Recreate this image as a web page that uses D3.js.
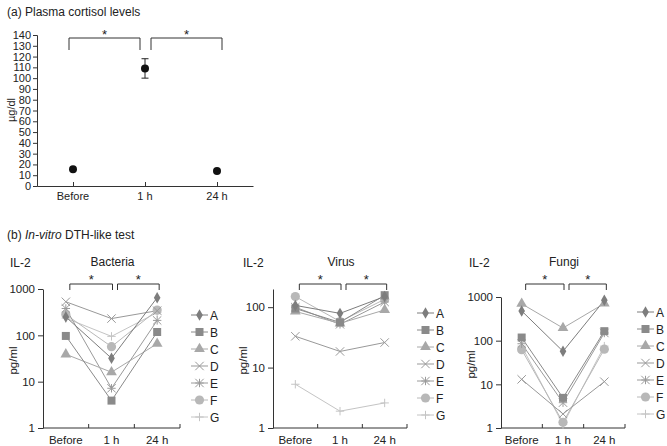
<!DOCTYPE html>
<html><head><meta charset="utf-8">
<script src="https://cdn.jsdelivr.net/npm/d3@7"></script>
<style>body{margin:0;background:#fff}svg{font-family:"Liberation Sans",Arial,sans-serif}</style>
</head><body><svg id="c" width="667" height="446"></svg>
<script>
const categories = ["Before", "1 h", "24 h"];
const cortisolMean = [15.5, 109, 14];
const cortisolErr = [0, 9, 0];
const cortisolTicks = [0,10,20,30,40,50,60,70,80,90,100,110,120,130,140];
const seriesNames = ["A","B","C","D","E","F","G"];
const bacteria = {A:[250,32,650],B:[97,3.9,118],C:[39,16,66],D:[530,230,340],E:[380,7.2,210],F:[280,57,350],G:[235,95,310]};
const virus = {A:[107,79,150],B:[95,56,158],C:[85,54,90],D:[33,18.5,26],E:[100,52,122],F:[150,58,135],G:[5.3,1.9,2.6]};
const fungi = {A:[480,57,840],B:[118,4.9,165],C:[700,195,710],D:[13,2.1,11.5],E:[85,3.8,150],F:[62,1.35,64],G:[75,1.2,75]};
const logTicks = [1,10,100,1000];

const markerType = {A:"diamond",B:"square",C:"triangle",D:"x",E:"asterisk",F:"circle",G:"plus"};
const colors = {A:"#7d7d7d",B:"#8a8a8a",C:"#a8a8a8",D:"#999",E:"#9a9a9a",F:"#b8b8b8",G:"#c4c4c4"};

const svg = d3.select("#c");

function marker(g, type, x, y, col){
  const s = g.append("g").attr("transform",`translate(${x},${y})`);
  if(type==="diamond") s.append("path").attr("d",d3.symbol(d3.symbolDiamond,38)()).attr("fill",col);
  else if(type==="square") s.append("path").attr("d",d3.symbol(d3.symbolSquare,64)()).attr("fill",col);
  else if(type==="triangle") s.append("path").attr("d",d3.symbol(d3.symbolTriangle,50)()).attr("fill",col);
  else if(type==="circle") s.append("circle").attr("r",4.6).attr("fill",col);
  else {
    const r=4.2; let segs=[];
    if(type==="x") segs=[[-r,-r,r,r],[-r,r,r,-r]];
    if(type==="plus") segs=[[-r,0,r,0],[0,-r,0,r]];
    if(type==="asterisk") segs=[[-r,-r,r,r],[-r,r,r,-r],[-r,0,r,0],[0,-r,0,r]];
    segs.forEach(q=>s.append("line").attr("x1",q[0]).attr("y1",q[1]).attr("x2",q[2]).attr("y2",q[3]).attr("stroke",col).attr("stroke-width",1));
  }
}

function bracket(g, x1, x2, yTop, yBot, starY){
  g.append("path").attr("d",`M${x1},${yBot}V${yTop}H${x2}V${yBot}`).attr("fill","none").attr("stroke","#333").attr("stroke-width",1);
  g.append("text").attr("x",(x1+x2)/2).attr("y",starY).attr("text-anchor","middle").attr("font-size",13).attr("fill","#222").text("*");
}

// ---- Panel (a)
svg.append("text").attr("x",7).attr("y",16).attr("font-size",12).attr("fill","#222").text("(a) Plasma cortisol levels");
{
  const x = d3.scalePoint().domain(categories).range([37,253]).padding(0.5);
  const y = d3.scaleLinear().domain([0,140]).range([186,35]);
  const g = svg.append("g");
  const ya = g.append("g").attr("transform","translate(37,0)").call(d3.axisLeft(y).tickValues(cortisolTicks).tickSize(4).tickPadding(2));
  ya.selectAll("text").attr("font-size",11).attr("fill","#222").attr("font-family","Liberation Sans, Arial");
  ya.select(".domain").attr("stroke","#333");
  ya.selectAll(".tick line").attr("stroke","#333");
  const xa = g.append("g").attr("transform","translate(0,186)").call(d3.axisTop(x).tickSize(4).tickSizeOuter(0));
  xa.selectAll("text").remove();
  xa.select(".domain").attr("stroke","#333");
  xa.selectAll(".tick line").attr("stroke","#333");
  categories.forEach(c=>g.append("text").attr("x",x(c)).attr("y",200).attr("text-anchor","middle").attr("font-size",11).attr("fill","#222").text(c));
  g.append("text").attr("transform","translate(15,110) rotate(-90)").attr("text-anchor","middle").attr("font-size",11).attr("fill","#222").text("µg/dl");
  categories.forEach((c,i)=>{
    if(cortisolErr[i]>0){
      const cx=x(c);
      g.append("path").attr("d",`M${cx},${y(cortisolMean[i]-cortisolErr[i])}V${y(cortisolMean[i]+cortisolErr[i])}M${cx-3.5},${y(cortisolMean[i]-cortisolErr[i])}h7M${cx-3.5},${y(cortisolMean[i]+cortisolErr[i])}h7`).attr("stroke","#222").attr("fill","none");
    }
    g.append("circle").attr("cx",x(c)).attr("cy",y(cortisolMean[i])).attr("r",4).attr("fill","#111");
  });
  bracket(g, x(categories[0])-4, x(categories[1])-5, 38, 50, 39);
  bracket(g, x(categories[1])+6, x(categories[2])+5, 38, 50, 39);
}

// ---- Panel (b)
const tb = svg.append("text").attr("x",7).attr("y",239).attr("font-size",12).attr("fill","#222");
tb.append("tspan").text("(b) ");
tb.append("tspan").attr("font-style","italic").text("In-vitro");
tb.append("tspan").text(" DTH-like test");

function subplot(cfg){
  const {data,title,x0,x1,yTop,yBot,ymax,il2x,legX,legY0,legStep,titleX} = cfg;
  const g = svg.append("g");
  const x = d3.scaleBand().domain(categories).range([x0,x1]);
  const y = d3.scaleLog().domain([1,ymax]).range([yBot,yTop]);
  g.append("text").attr("x",il2x).attr("y",267).attr("font-size",12).attr("fill","#222").text("IL-2");
  g.append("text").attr("x",(x0+x1)/2+1).attr("y",266).attr("text-anchor","middle").attr("font-size",12).attr("fill","#222").text(title);
  const ya = g.append("g").attr("transform",`translate(${x0},0)`).call(d3.axisLeft(y).tickValues(logTicks.filter(t=>t<=ymax)).tickFormat(d3.format("d")).tickSize(5).tickPadding(3).tickSizeOuter(0));
  ya.selectAll("text").attr("font-size",11.5).attr("fill","#222").attr("font-family","Liberation Sans, Arial");
  ya.select(".domain").attr("stroke","#333");
  ya.selectAll(".tick line").attr("stroke","#333");
  g.append("line").attr("x1",x0).attr("x2",x1).attr("y1",yBot).attr("y2",yBot).attr("stroke","#333");
  categories.forEach(c=>{
    const bx = x(c)+x.bandwidth();
    g.append("line").attr("x1",bx).attr("x2",bx).attr("y1",yBot).attr("y2",yBot-4).attr("stroke","#333");
    g.append("text").attr("x",x(c)+x.bandwidth()/2).attr("y",444).attr("text-anchor","middle").attr("font-size",11.5).attr("fill","#222").text(c);
  });
  g.append("text").attr("transform",`translate(${x0-26},${(yTop+yBot)/2+2}) rotate(-90)`).attr("text-anchor","middle").attr("font-size",11.5).attr("fill","#222").text("pg/ml");
  const cx = c=>x(c)+x.bandwidth()/2;
  const line = d3.line().x((d,i)=>cx(categories[i])).y(d=>y(d));
  seriesNames.slice().reverse().forEach(s=>{
    g.append("path").attr("d",line(data[s])).attr("fill","none").attr("stroke",colors[s]).attr("stroke-width",1);
  });
  seriesNames.slice().reverse().forEach(s=>{
    data[s].forEach((v,i)=>marker(g, markerType[s], cx(categories[i]), y(v), colors[s]));
  });
  const c0=cx(categories[0]), c1=cx(categories[1]), c2=cx(categories[2]);
  bracket(g, c0+4, c1+1, 284, 290, 284);
  bracket(g, c1+6, c2+2, 284, 290, 284);
  seriesNames.forEach((s,i)=>{
    const ly = legY0 + i*legStep;
    g.append("line").attr("x1",legX).attr("x2",legX+17).attr("y1",ly).attr("y2",ly).attr("stroke",colors[s]);
    marker(g, markerType[s], legX+8.5, ly, colors[s]);
    g.append("text").attr("x",legX+19).attr("y",ly+4.5).attr("font-size",12).attr("fill","#222").text(s);
  });
}

subplot({data:bacteria,title:"Bacteria",x0:43,x1:180,yTop:289,yBot:428,ymax:1000,il2x:10,legX:191,legY0:315,legStep:17});
subplot({data:virus,title:"Virus",x0:273,x1:407,yTop:289,yBot:428,ymax:200,il2x:243,legX:417,legY0:313,legStep:17});
subplot({data:fungi,title:"Fungi",x0:501,x1:625,yTop:297,yBot:428,ymax:1000,il2x:469,legX:637,legY0:312,legStep:17});
</script></body></html>
